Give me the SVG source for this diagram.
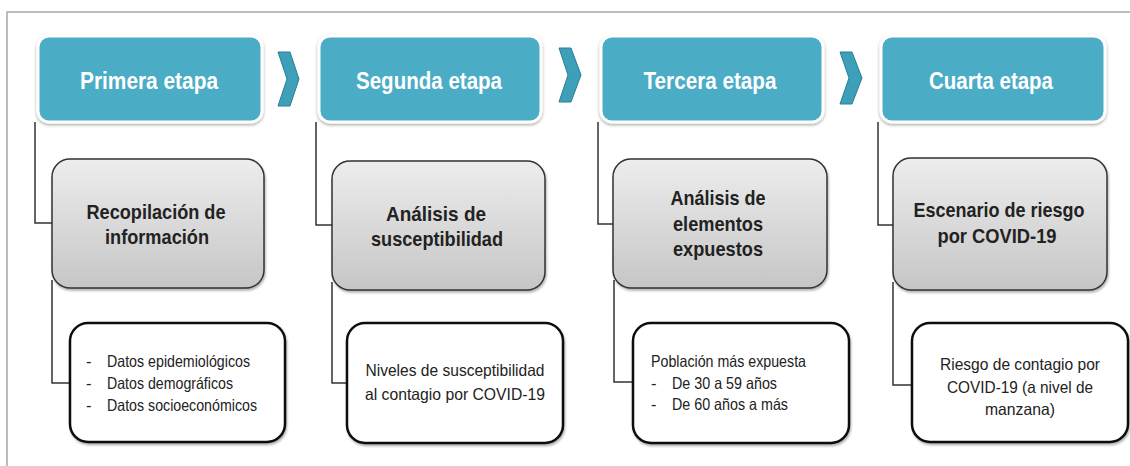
<svg xmlns="http://www.w3.org/2000/svg" width="1130" height="466" viewBox="0 0 1130 466">
<defs>
<linearGradient id="gray" x1="0" y1="0" x2="0" y2="1">
<stop offset="0" stop-color="#EDEDED"/>
<stop offset="1" stop-color="#C6C6C6"/>
</linearGradient>
<filter id="sh" x="-10%" y="-10%" width="120%" height="125%">
<feDropShadow dx="0" dy="1.5" stdDeviation="1.5" flood-color="#000" flood-opacity="0.35"/>
</filter>
<filter id="sh2" x="-10%" y="-10%" width="120%" height="125%">
<feDropShadow dx="1" dy="2" stdDeviation="1.2" flood-color="#000" flood-opacity="0.3"/>
</filter>
</defs>
<style>
.frame{fill:none;stroke:#A6A6A6;stroke-width:1.5}
.hdr{fill:#4BACC6;stroke:#fff;stroke-width:3;filter:url(#sh)}
.hdrt{font-family:"Liberation Sans Narrow","Liberation Sans",Arial,sans-serif;font-weight:bold;font-size:23.5px;fill:#fff;text-anchor:middle}
.gbox{fill:url(#gray);stroke:#333;stroke-width:1.5;filter:url(#sh2)}
.gt{font-family:"Liberation Sans Narrow","Liberation Sans",Arial,sans-serif;font-weight:bold;font-size:21px;fill:#222;text-anchor:middle}
.wbox{fill:#fff;stroke:#111;stroke-width:2.5;filter:url(#sh2)}
.wt{font-family:"Liberation Sans Narrow","Liberation Sans",Arial,sans-serif;font-size:16.5px;fill:#222}
.wtc{font-family:"Liberation Sans Narrow","Liberation Sans",Arial,sans-serif;font-size:16.5px;fill:#222;text-anchor:middle}
.chev{fill:#3E9FB9;stroke:#2A7E96;stroke-width:1}
.con{fill:none;stroke:#333;stroke-width:1.5}
</style>
<rect class="frame" x="7" y="12" width="1200" height="520"/>
<g id="connectors">
<polyline class="con" points="35,122 35,223 52,223"/>
<polyline class="con" points="52,280 52,383 70,383"/>
<polyline class="con" points="316,122 316,225 332,225"/>
<polyline class="con" points="332,282 332,383 347,383"/>
<polyline class="con" points="598,122 598,224 613,224"/>
<polyline class="con" points="614,280 614,382 633,382"/>
<polyline class="con" points="878,122 878,225 893,225"/>
<polyline class="con" points="893,282 893,385 912,385"/>
</g>
<g id="chevrons">
<polygon class="chev" points="278,52 290,52 299,79 290,106 278,106 287,79"/>
<polygon class="chev" points="559,48 571,48 581,75 571,102 559,102 568,75"/>
<polygon class="chev" points="840,52 852,52 862,78 852,104 840,104 849,78"/>
</g>
<g id="h1"><rect class="hdr" x="38" y="36" width="224" height="86" rx="11"/><text class="hdrt" x="149" y="89" textLength="138" lengthAdjust="spacingAndGlyphs">Primera etapa</text></g>
<g id="h2"><rect class="hdr" x="319" y="36" width="222" height="86" rx="11"/><text class="hdrt" x="429" y="89" textLength="146" lengthAdjust="spacingAndGlyphs">Segunda etapa</text></g>
<g id="h3"><rect class="hdr" x="601" y="36" width="222" height="86" rx="11"/><text class="hdrt" x="710" y="89" textLength="133" lengthAdjust="spacingAndGlyphs">Tercera etapa</text></g>
<g id="h4"><rect class="hdr" x="881" y="36" width="224" height="86" rx="11"/><text class="hdrt" x="991" y="89" textLength="124" lengthAdjust="spacingAndGlyphs">Cuarta etapa</text></g>
<g id="g1"><rect class="gbox" x="52" y="159" width="212" height="129" rx="18"/>
<text class="gt" x="156" y="219" textLength="139" lengthAdjust="spacingAndGlyphs">Recopilación de</text>
<text class="gt" x="157" y="244" textLength="104" lengthAdjust="spacingAndGlyphs">información</text></g>
<g id="g2"><rect class="gbox" x="332" y="161" width="213" height="129" rx="18"/>
<text class="gt" x="436" y="221" textLength="100" lengthAdjust="spacingAndGlyphs">Análisis de</text>
<text class="gt" x="437" y="246" textLength="132" lengthAdjust="spacingAndGlyphs">susceptibilidad</text></g>
<g id="g3"><rect class="gbox" x="613" y="159" width="214" height="129" rx="18"/>
<text class="gt" x="718" y="205" textLength="95" lengthAdjust="spacingAndGlyphs">Análisis de</text>
<text class="gt" x="718" y="231" textLength="90" lengthAdjust="spacingAndGlyphs">elementos</text>
<text class="gt" x="718" y="256" textLength="90" lengthAdjust="spacingAndGlyphs">expuestos</text></g>
<g id="g4"><rect class="gbox" x="893" y="158" width="214" height="132" rx="18"/>
<text class="gt" x="999" y="217" textLength="171" lengthAdjust="spacingAndGlyphs">Escenario de riesgo</text>
<text class="gt" x="997" y="243" textLength="119" lengthAdjust="spacingAndGlyphs">por COVID-19</text></g>
<g id="w1"><rect class="wbox" x="70" y="323" width="215" height="119" rx="18"/>
<text class="wt" x="86" y="367">-</text><text class="wt" x="107" y="367" textLength="143" lengthAdjust="spacingAndGlyphs">Datos epidemiológicos</text>
<text class="wt" x="86" y="389">-</text><text class="wt" x="107" y="389" textLength="126" lengthAdjust="spacingAndGlyphs">Datos demográficos</text>
<text class="wt" x="86" y="411">-</text><text class="wt" x="107" y="411" textLength="150" lengthAdjust="spacingAndGlyphs">Datos socioeconómicos</text></g>
<g id="w2"><rect class="wbox" x="347" y="323" width="216" height="120" rx="18"/>
<text class="wtc" x="455" y="376" textLength="179" lengthAdjust="spacingAndGlyphs">Niveles de susceptibilidad</text>
<text class="wtc" x="455" y="400" textLength="180" lengthAdjust="spacingAndGlyphs">al contagio por COVID-19</text></g>
<g id="w3"><rect class="wbox" x="633" y="323" width="216" height="120" rx="18"/>
<text class="wt" x="651" y="367" textLength="155" lengthAdjust="spacingAndGlyphs">Población más expuesta</text>
<text class="wt" x="651" y="389">-</text><text class="wt" x="672" y="389" textLength="105" lengthAdjust="spacingAndGlyphs">De 30 a 59 años</text>
<text class="wt" x="651" y="410">-</text><text class="wt" x="672" y="410" textLength="116" lengthAdjust="spacingAndGlyphs">De 60 años a más</text></g>
<g id="w4"><rect class="wbox" x="912" y="323" width="216" height="119" rx="18"/>
<text class="wtc" x="1020" y="370" textLength="160" lengthAdjust="spacingAndGlyphs">Riesgo de contagio por</text>
<text class="wtc" x="1020" y="393" textLength="146" lengthAdjust="spacingAndGlyphs">COVID-19 (a nivel de</text>
<text class="wtc" x="1020" y="415" textLength="70" lengthAdjust="spacingAndGlyphs">manzana)</text></g>
</svg>
